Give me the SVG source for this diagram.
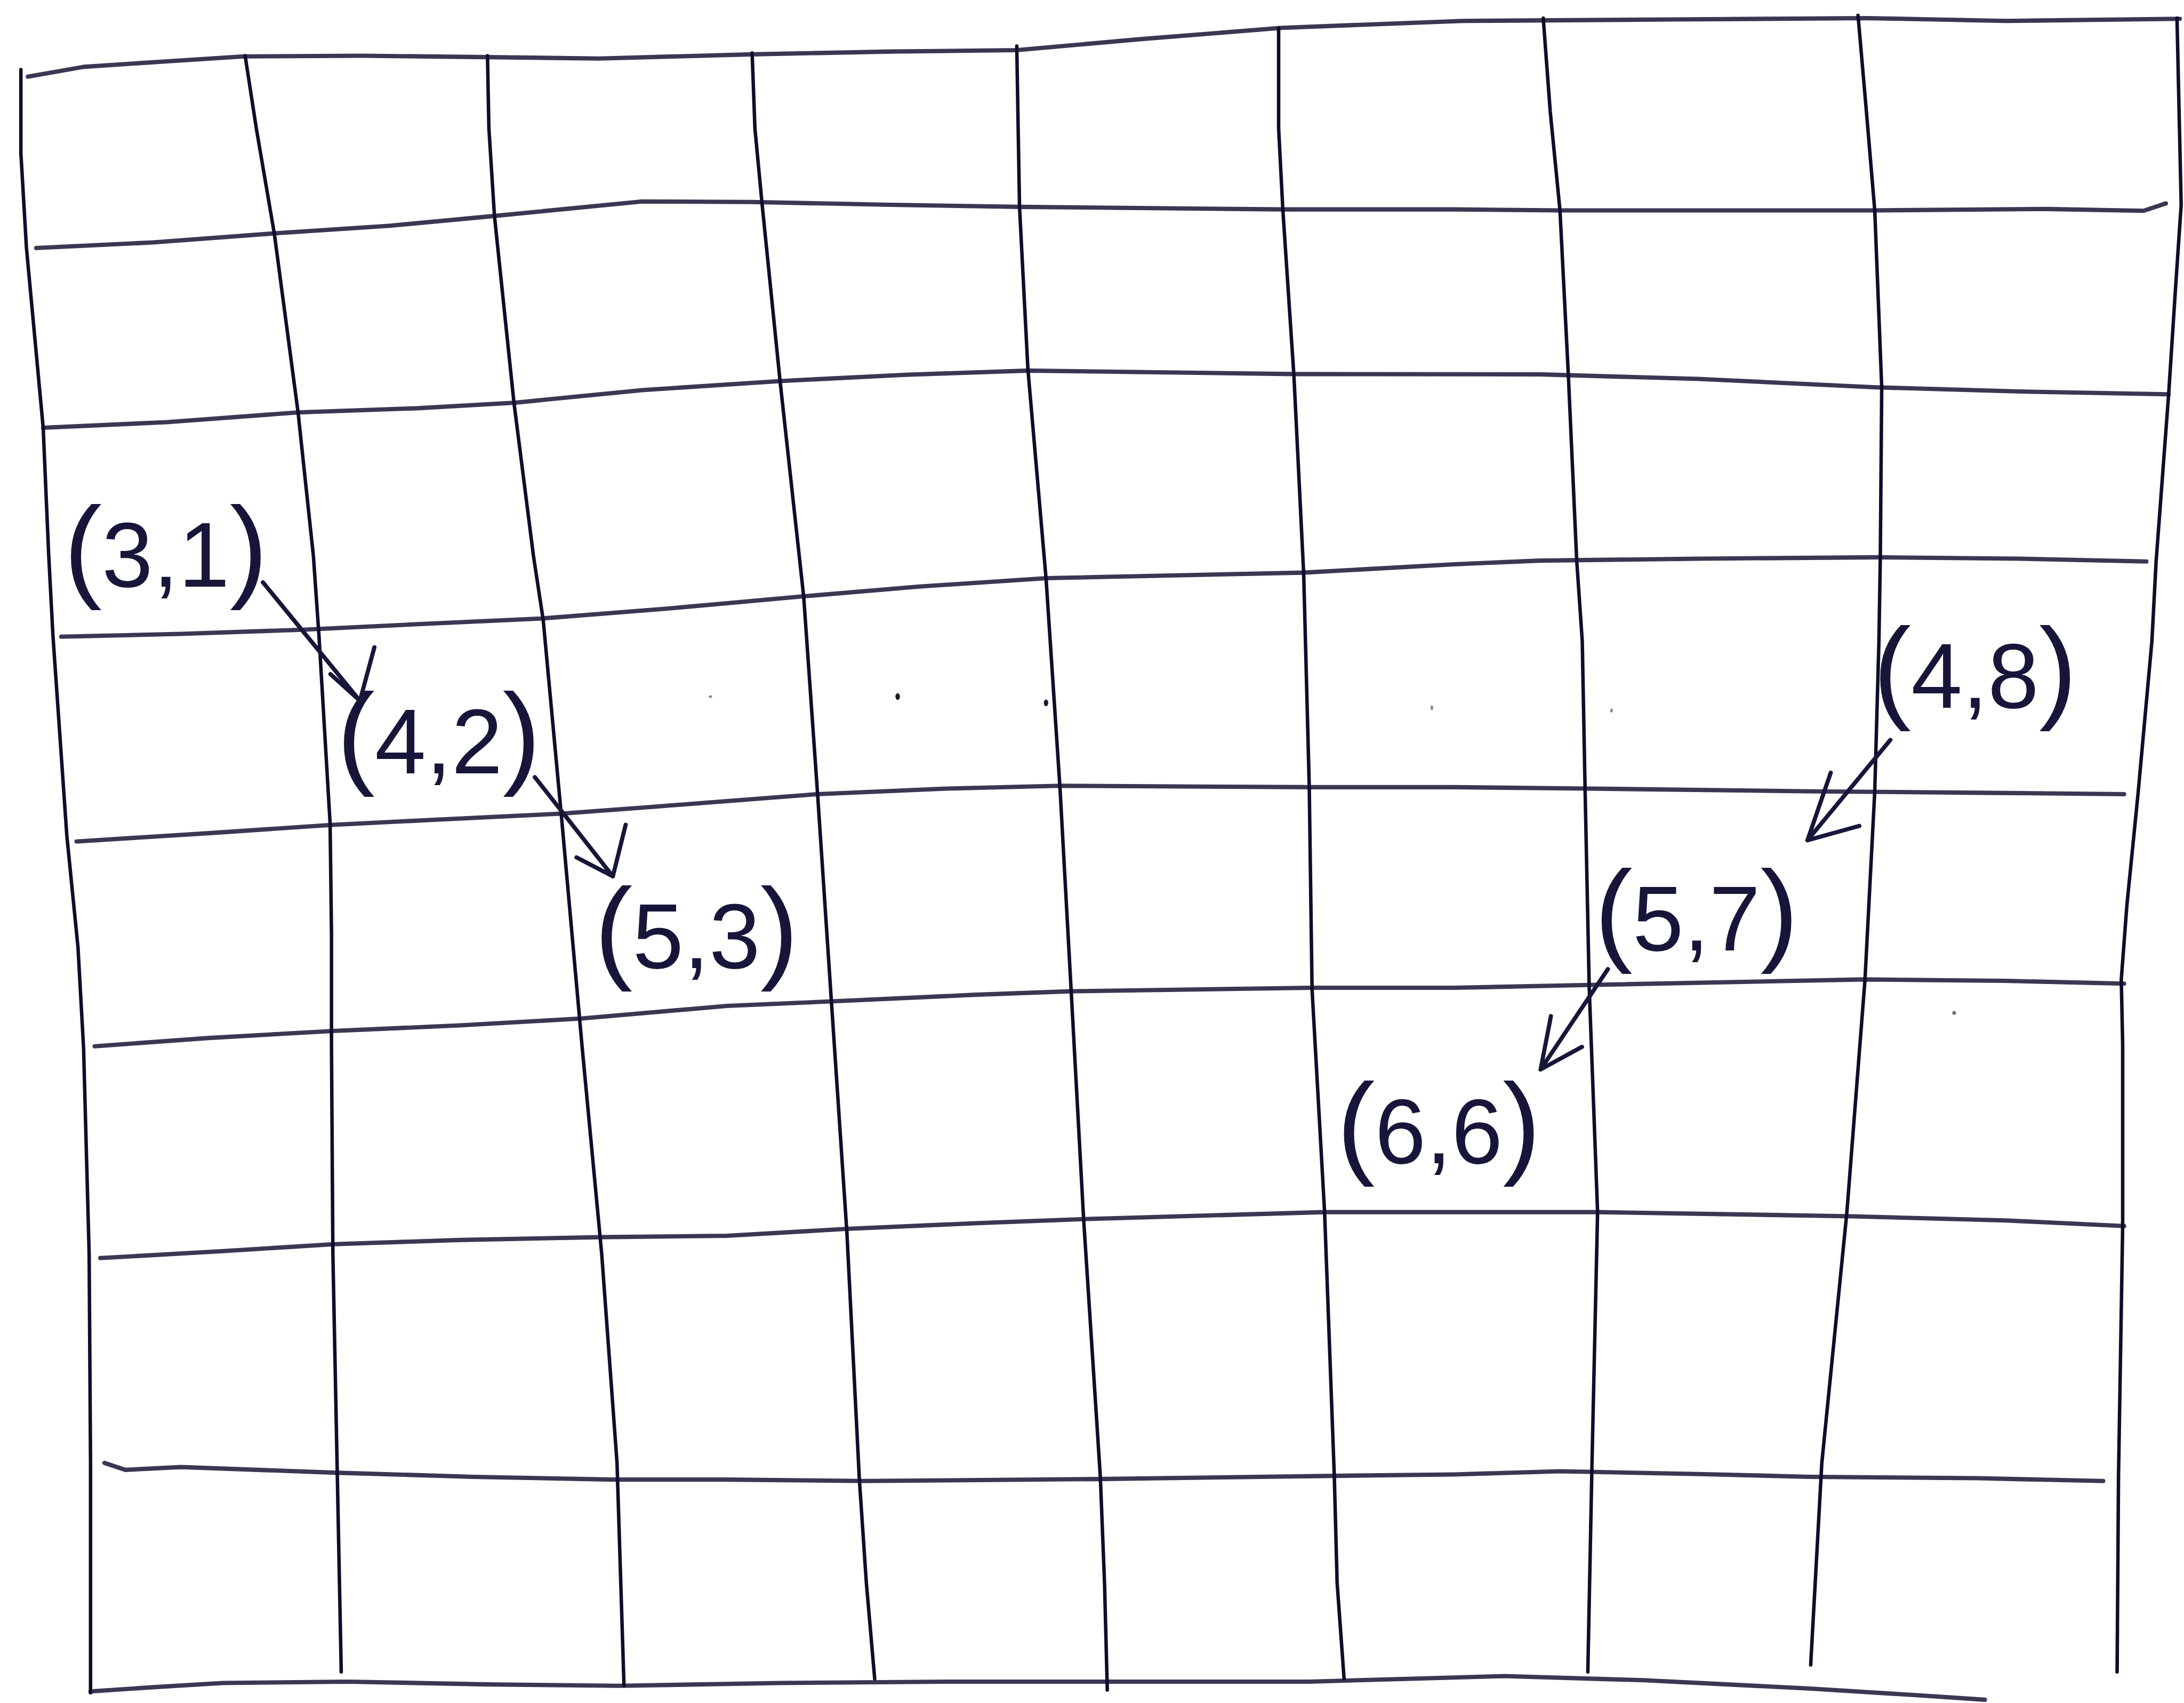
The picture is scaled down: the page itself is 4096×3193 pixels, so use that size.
<svg xmlns="http://www.w3.org/2000/svg" width="4096" height="3193" viewBox="0 0 4096 3193">
<style>
.h{fill:none;stroke:#2c2846;stroke-width:3.1;stroke-linecap:round;stroke-linejoin:round;opacity:.93}
.v{fill:none;stroke:#0e0d2b;stroke-width:2.5;stroke-linecap:round;stroke-linejoin:round}
.lbl{font-family:"Liberation Sans","DejaVu Sans",sans-serif;font-size:66px;fill:#17163a;text-anchor:middle}
.p{font-size:82px}
.arr{fill:none;stroke:#17163a;stroke-width:3;stroke-linecap:round;stroke-linejoin:round}
.dot{fill:#1a1a30}
</style>
<rect width="4096" height="3193" fill="#ffffff"/>
<g transform="scale(2.6122)">
<g id="grid">
<polyline class="h" points="20,55 60,48 120,44 175,40.5 260,40 350,41 430,42 540,39 640,37 730,36 820,28 920,20 1050,15 1200,14 1340,13 1440,15 1565,13.5"/>
<polyline class="h" points="26,178 110,174 197,167.5 280,162 355,155 461,144.6 540,145 640,147 732,148.5 921,150.3 1044,150.3 1120,151 1346,151 1470,150 1539,151.3 1555,146"/>
<polyline class="h" points="31,307 120,303 214,296 300,293 370,289 461,280 560,273.5 650,269 738,266 929,268.5 1105,268.7 1220,272 1347,278 1450,281 1557,283"/>
<polyline class="h" points="44,457 130,455 217,452 300,448 388,444 477,437 522,433 577,428 660,421 751.5,415 936,411 1044,405 1105,402.4 1220,401 1347,400 1450,401 1541,403"/>
<polyline class="h" points="55,604 150,598 239,592 320,588 403,584 470,579 522,575 587,570 680,566 761,564 940,565 1044,565 1140,566 1301,568 1420,569 1525,570"/>
<polyline class="h" points="68,751 150,745 239,740 330,736 418,731 522,722 614,718 700,714 768,711.5 941,709 1044,709 1140,707 1338,703 1440,704 1525,706"/>
<polyline class="h" points="72,903 160,898 240,893 330,890 430,888 522,887 608,882 700,878 778,875 951,870 1044,870 1147,870 1330,873 1440,876 1525,880"/>
<polyline class="h" points="75,1050 90,1055 130,1053 240,1057 340,1060 440,1062 522,1062 620,1063 788,1061.6 958,1059.3 1044,1058.3 1120,1056 1220,1058 1300,1060 1420,1061 1510,1063"/>
<polyline class="h" points="65,1214 110,1211 160,1208 250,1207 350,1209 445,1210 560,1208 680,1207 800,1207 940,1207 1010,1205 1080,1203 1180,1206 1240,1209 1300,1212 1380,1217 1425,1220"/>
<polyline class="v" points="15,50 15,110 19,178 31,307 35,399 38,456 48,600 56,680 60,752 64,900 65,1050 65,1215"/>
<polyline class="v" points="176,40 184,92 197,168 214,296 225,399 229,456 237,591 238,670 238,752 239,900 242,1050 245,1200"/>
<polyline class="v" points="350,40 351,92 355,155 369,289 383,399 390,445 403,585 418,752 432,900 443,1050 448,1210"/>
<polyline class="v" points="540,38 542,92 547,145 560,273 577,428 587,570 597,720 608,884 617,1062 622,1136 628,1205"/>
<polyline class="v" points="730,33 731,92 732,149 738,265 751,415 761,565 769,710 778,875 790,1060 793,1136 795,1213"/>
<polyline class="v" points="918,20 918,92 921,150 929,270 936,412 940,565 942,710 951,870 958,1060 960,1136 965,1205"/>
<polyline class="v" points="1108,13 1113,80 1120,151 1126,269 1132,402 1136,460 1138,565 1141,709 1147,870 1143,1050 1140,1200"/>
<polyline class="v" points="1334,11 1340,80 1346,151 1351,278 1350,400 1349,460 1346,568 1339,703 1326,870 1308,1050 1300,1195"/>
<polyline class="v" points="1563,13 1566,147 1562,206 1557,283 1554,323 1548,403 1545,460 1535,570 1527,650 1523,703 1524,750 1524,880 1521,1060 1520,1200"/>
</g>
<g id="specks">
<ellipse class="dot" cx="644.5" cy="500" rx="1.6" ry="2.4"/>
<ellipse class="dot" cx="751" cy="504.5" rx="1.6" ry="2.4"/>
<ellipse class="dot" cx="510" cy="500" rx="1.2" ry="1" opacity=".5"/>
<ellipse class="dot" cx="1028" cy="508" rx="1" ry="1.6" opacity=".5"/>
<ellipse class="dot" cx="1157" cy="510" rx="1" ry="1.4" opacity=".5"/>
<ellipse class="dot" cx="1403" cy="727" rx="1.4" ry="1.4" opacity=".6"/>
</g>
<g id="connectors">
<path class="arr" d="M188.8,418 L258.4,503 M268.8,464.6 L258.4,503 L237.2,483.8"/>
<path class="arr" d="M384,557.8 L440,629 M449.2,592 L440,629 L413.9,615.4"/>
<path class="arr" d="M1357.2,531.1 L1297.7,603.1 M1314.4,554.6 L1297.7,603.1 L1334.9,592.8"/>
<path class="arr" d="M1154.4,695.6 L1106.1,767.6 M1113.5,729.4 L1106.1,767.6 L1135.8,751.4"/>
</g>
<g id="n31"><text class="lbl" x="119" y="421"><tspan class="p">(</tspan>3,1<tspan class="p">)</tspan></text></g>
<g id="n42"><text class="lbl" x="315" y="555"><tspan class="p">(</tspan>4,2<tspan class="p">)</tspan></text></g>
<g id="n53"><text class="lbl" x="500" y="695"><tspan class="p">(</tspan>5,3<tspan class="p">)</tspan></text></g>
<g id="n48"><text class="lbl" x="1418" y="508"><tspan class="p">(</tspan>4,8<tspan class="p">)</tspan></text></g>
<g id="n57"><text class="lbl" x="1218" y="682"><tspan class="p">(</tspan>5,7<tspan class="p">)</tspan></text></g>
<g id="n66"><text class="lbl" x="1033" y="835"><tspan class="p">(</tspan>6,6<tspan class="p">)</tspan></text></g>
</g>
</svg>
